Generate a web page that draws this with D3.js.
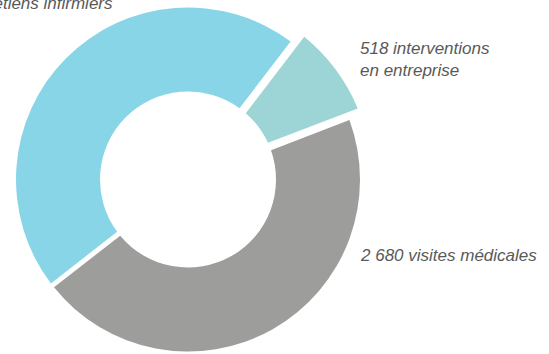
<!DOCTYPE html>
<html>
<head>
<meta charset="utf-8">
<script src="https://cdn.jsdelivr.net/npm/d3@7"></script>
<style>
  html, body { margin: 0; padding: 0; background: #fff; }
  svg { display: block; }
  .lbl { font-family: "Liberation Sans", Arial, sans-serif; font-style: italic; font-size: 17px; fill: #595959; }
</style>
</head>
<body>
<svg id="chart" width="549" height="354"></svg>
<script>
// Activity breakdown
const categories = ["entretiens infirmiers", "interventions en entreprise", "visites médicales"];
const values = [2720, 518, 2680];
const colors = ["#89D5E8", "#9DD4D5", "#9D9D9C"];
const labelLines = [
  ["2 720 entretiens infirmiers"],
  ["518 interventions", "en entreprise"],
  ["2 680 visites médicales"]
];

const svg = d3.select("#chart");
const cx = 188, cy = 179.5;
const innerR = 88, outerR = 172;
const outerHighlight = 184;   // the middle slice stands out
const padWidths = [5, 11, 5];  // gap width (px) contributed by each slice
const padRadius = 100;

const start = -128 * Math.PI / 180;
const pie = d3.pie().sort(null).value(d => d).startAngle(start).endAngle(start + 2 * Math.PI);
const arcs = pie(values);

const arc = d3.arc()
  .innerRadius(innerR)
  .outerRadius((d, i) => i === 1 ? outerHighlight : outerR)
  .padRadius(padRadius)
  .padAngle((d, i) => padWidths[i] / padRadius);

const g = svg.append("g").attr("transform", `translate(${cx},${cy})`);
g.selectAll("path")
  .data(arcs)
  .join("path")
  .attr("d", (d, i) => arc(d, i))
  .attr("fill", (d, i) => colors[i]);

// Labels
const labelPos = [
  { x: 112.5, y: 9, anchor: "end" },
  { x: 360, y: 54, anchor: "start" },
  { x: 361, y: 261, anchor: "start" }
];
const lineH = 21.5;
labelLines.forEach((lines, i) => {
  const t = svg.append("text")
    .attr("class", "lbl")
    .attr("x", labelPos[i].x)
    .attr("y", labelPos[i].y)
    .attr("text-anchor", labelPos[i].anchor);
  lines.forEach((ln, j) => {
    t.append("tspan").attr("x", labelPos[i].x).attr("dy", j === 0 ? 0 : lineH).text(ln);
  });
});
</script>
</body>
</html>
